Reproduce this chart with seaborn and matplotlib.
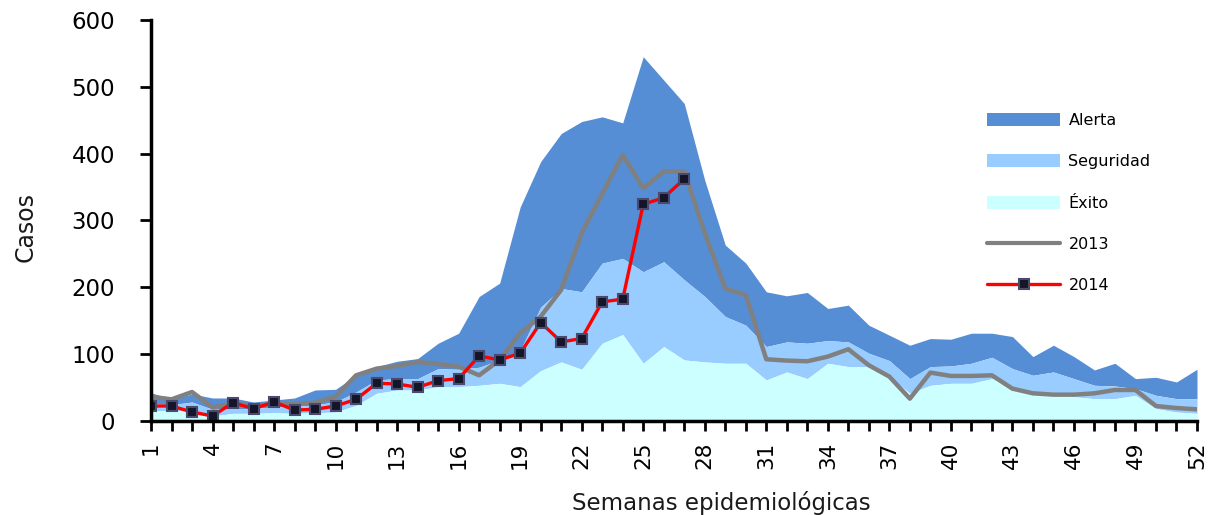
import numpy as np
import seaborn as sns
import matplotlib.pyplot as plt
import pandas as pd
from matplotlib.patches import Patch
from matplotlib.lines import Line2D

weeks = list(range(1, 53))

# upper limits of the channel zones (cases)
exito = [15, 15, 15, 7, 11, 11, 12, 11, 12, 13,
         23, 41, 46, 46, 51, 51, 53, 56, 51, 75,
         88, 77, 116, 129, 86, 111, 91, 88, 86, 86,
         61, 73, 63, 86, 81, 81, 66, 41, 53, 56,
         56, 63, 51, 43, 41, 36, 33, 33, 38, 18, 13, 11]
seguridad = [26, 24, 28, 17, 18, 18, 21, 21, 24, 28,
             43, 61, 63, 63, 78, 77, 80, 91, 105, 170,
             198, 193, 236, 243, 223, 238, 211, 186, 156, 143,
             111, 118, 116, 120, 118, 101, 90, 63, 81, 82,
             86, 95, 78, 68, 73, 63, 53, 52, 48, 38, 33, 33]
alerta = [42, 32, 40, 34, 34, 28, 31, 34, 46, 47,
          68, 81, 89, 93, 116, 131, 186, 206, 320, 388,
          430, 448, 455, 446, 545, 510, 475, 360, 263, 236,
          193, 187, 192, 168, 173, 143, 128, 113, 123, 122,
          131, 131, 126, 96, 113, 96, 76, 86, 63, 65, 58, 77]

casos_2013 = [36, 32, 43, 20, 26, 22, 25, 25, 27, 36,
              68, 78, 82, 88, 85, 81, 68, 91, 131, 156,
              196, 281, 340, 398, 348, 373, 373, 281, 198, 188,
              92, 90, 89, 96, 107, 83, 66, 33, 72, 67,
              67, 68, 48, 41, 39, 39, 41, 46, 46, 22, 19, 17]
casos_2014 = [22, 22, 13, 7, 27, 18, 28, 16, 17, 22,
              32, 56, 55, 50, 60, 63, 97, 91, 101, 147,
              118, 123, 178, 182, 324, 334, 362]

tick_weeks = list(range(1, 53, 3))

sns.set_style("ticks")
plt.rcParams['font.family'] = ['DejaVu Sans']
plt.rcParams['text.color'] = 'black'

df13 = pd.DataFrame({'semana': weeks, 'casos': casos_2013})
df14 = pd.DataFrame({'semana': weeks[:len(casos_2014)], 'casos': casos_2014})

fig = plt.figure(figsize=(12.08, 5.15), dpi=100)
ax = fig.add_axes([151 / 1208, 94.3 / 515, 1046 / 1208, 400.7 / 515])

c_alerta = '#558ED5'
c_seg = '#99CCFF'
c_exito = '#CCFFFF'

ax.fill_between(weeks, seguridad, alerta, color=c_alerta, lw=0)
ax.fill_between(weeks, exito, seguridad, color=c_seg, lw=0)
ax.fill_between(weeks, 0, exito, color=c_exito, lw=0)

sns.lineplot(data=df13, x='semana', y='casos', ax=ax, color='#808080', lw=3.2)
sns.lineplot(data=df14, x='semana', y='casos', ax=ax, color='#FF0000', lw=2.4,
             marker='s', markersize=7, markerfacecolor='#15152a',
             markeredgecolor='#4a4a6e', markeredgewidth=1.5)

ax.set_xlim(1, 52)
ax.set_ylim(0, 600)
ax.set_xticks(weeks)
ax.set_xticklabels([str(w) if w in tick_weeks else '' for w in weeks],
                   rotation=90, fontsize=15.5)
ax.set_yticks(range(0, 601, 100))
ax.tick_params(axis='y', labelsize=16.5, length=8, width=2, pad=18,
               color='black', labelcolor='black')
ax.tick_params(axis='x', length=7, width=2, pad=8, color='black', labelcolor='black')

for s in ['top', 'right']:
    ax.spines[s].set_visible(False)
for s in ['left', 'bottom']:
    ax.spines[s].set_linewidth(2.5)
    ax.spines[s].set_color('black')

ax.set_xlabel('Semanas epidemiológicas', fontsize=16.5, color='#1a1a1a')
ax.set_ylabel('Casos', fontsize=17, color='#1a1a1a')
ax.xaxis.set_label_coords(0.545, -0.175)
ax.yaxis.set_label_coords(-0.108, 0.483)

handles = [
    Patch(facecolor=c_alerta, edgecolor='none', label='Alerta'),
    Patch(facecolor=c_seg, edgecolor='none', label='Seguridad'),
    Patch(facecolor=c_exito, edgecolor='none', label='Éxito'),
    Line2D([0], [0], color='#808080', lw=3, label='2013'),
    Line2D([0], [0], color='#FF0000', lw=2.4, marker='s', markersize=7,
           markerfacecolor='#15152a', markeredgecolor='#4a4a6e',
           markeredgewidth=1.5, label='2014'),
]
fig.legend(handles=handles, loc='upper left', bbox_to_anchor=(987 / 1208, 1 - 113 / 515),
           frameon=False, fontsize=11.5, handlelength=4.6, handleheight=0.85,
           handletextpad=0.5, labelspacing=1.65, borderpad=0, borderaxespad=0,
           labelcolor='black')

fig.savefig('out.png', dpi=100)
